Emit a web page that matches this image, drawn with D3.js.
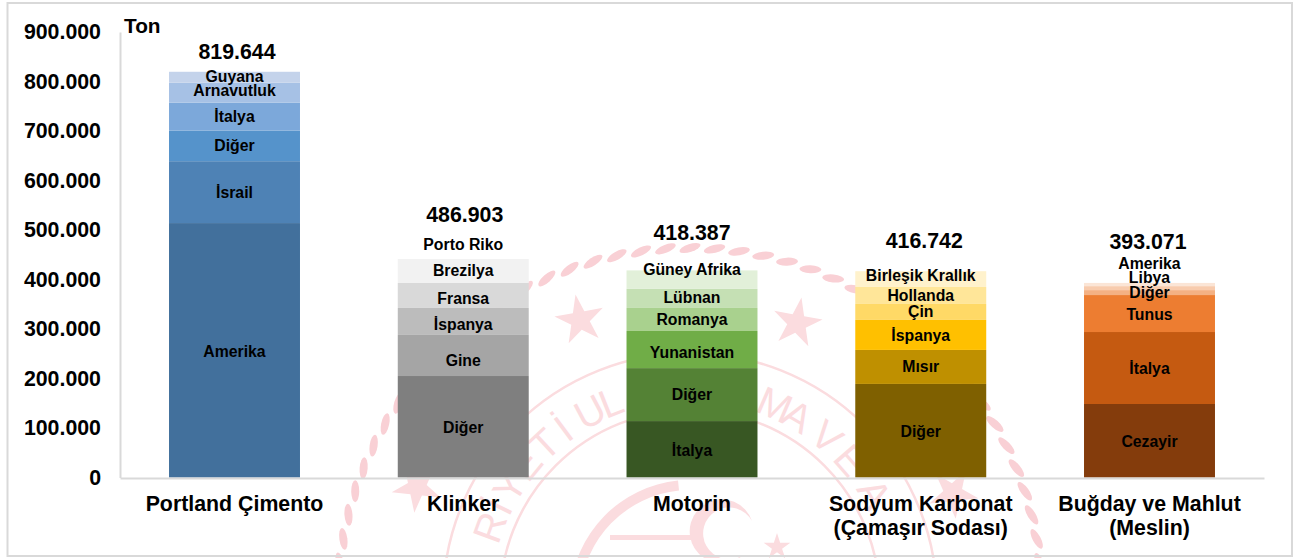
<!DOCTYPE html>
<html>
<head>
<meta charset="utf-8">
<script src="https://cdn.jsdelivr.net/npm/d3@7"></script>
<style>
  html, body { margin: 0; padding: 0; background: #fff; }
  svg { display: block; }
  text { font-family: "Liberation Sans", Arial, sans-serif; font-weight: bold; fill: #000; }
  .seal text { font-weight: normal; fill: #fbdcdf; }
</style>
</head>
<body>
<div id="chart"></div>
<script>
////////////////////////////////////////////////////////////////////////
// Data. Segments go from the bottom of the bar up.

let categories = ["Portland Çimento", "Klinker", "Motorin", "Sodyum Karbonat|(Çamaşır Sodası)", "Buğday ve Mahlut|(Meslin)"];
let totals = [819644, 486903, 418387, 416742, 393071];
let yTicks = [0, 100000, 200000, 300000, 400000, 500000, 600000, 700000, 800000, 900000];

let portlandNames = ["Amerika", "İsrail", "Diğer", "İtalya", "Arnavutluk", "Guyana"];
let portlandValues = [514000, 125000, 62000, 56500, 40000, 22144];
let klinkerNames = ["Diğer", "Gine", "İspanya", "Fransa", "Brezilya", "Porto Riko"];
let klinkerValues = [205000, 83000, 54500, 50500, 48500, 45403];
let motorinNames = ["İtalya", "Diğer", "Yunanistan", "Romanya", "Lübnan", "Güney Afrika"];
let motorinValues = [114000, 107000, 75000, 46500, 38500, 37387];
let sodyumNames = ["Diğer", "Mısır", "İspanya", "Çin", "Hollanda", "Birleşik Krallık"];
let sodyumValues = [189000, 68700, 60600, 32300, 34300, 31842];
let bugdayNames = ["Cezayir", "İtalya", "Tunus", "Diğer", "Libya", "Amerika"];
let bugdayValues = [148500, 145400, 74700, 10000, 8000, 6471];

let allNames = [portlandNames, klinkerNames, motorinNames, sodyumNames, bugdayNames];
let allValues = [portlandValues, klinkerValues, motorinValues, sodyumValues, bugdayValues];

let palettes = [
  ["#42709c", "#4e82b5", "#5593cb", "#7ca8da", "#a6c1e5", "#c4d3eb"],
  ["#7f7f7f", "#a5a5a5", "#bcbcbc", "#d9d9d9", "#f2f2f2", "#ffffff"],
  ["#385723", "#548235", "#70ad47", "#a9d18e", "#c5e0b4", "#e2f0d9"],
  ["#7f6000", "#bf9000", "#ffc000", "#ffd966", "#ffe699", "#fff2cc"],
  ["#843c0c", "#c55a11", "#ed7d31", "#f4b183", "#f8cbad", "#fbe5d6"]
];

// the labels were moved by hand in the original, so they need nudging too
let labelNudge = [
  [1.5, 0, 0, 0, -2, -1],
  [1, 5, 3, 3, 0, -3.5],
  [1, 0, 3, 0, -1, -10],
  [1, 0, 1, 0, 0, -3.5],
  [1, 0, 0.5, 0, -11, -21]
];
let totalLift = [13, 14.5, 30, 23, 34];
let totalShift = [2.5, 1.5, 0, 3.5, -1.5];

// letters of the seal that can be seen, with their angle on the ring
let sealLetters = "RİYETİULAŞTIRMAVEA".split("");
let sealAngles = [-70, -64, -58, -50.5, -43, -36.5, -28, -21.8, -14, -6, 1, 6, 12, 23.5, 30.3, 40, 48.9, 60];

////////////////////////////////////////////////////////////////////////
// Setup

let width = 1295;
let height = 558;
let axisColor = "#d9d9d9";
let ropeColor = "#f9d0d5";
let markColor = "#fbdcdf";

let svg = d3.select("#chart").append("svg")
  .attr("width", width).attr("height", height);

let xScale = d3.scaleBand().domain(d3.range(categories.length)).range([120, 1264]).paddingInner(0.4275).paddingOuter(0.2143);
let yScale = d3.scaleLinear().domain([0, 900000]).range([477.5, 32]);

let dotted = d3.formatLocale({ decimal: ",", thousands: ".", grouping: [3], currency: ["", ""] }).format(",");

////////////////////////////////////////////////////////////////////////
// Faint seal behind the chart

function drawSeal() {
  let cx = 690, cy = 600;
  let seal = svg.append("g").attr("class", "seal");

  // rope, only the part above the bottom of the frame
  seal.append("g").selectAll("ellipse")
    .data(d3.range(-84, 85, 4))
    .enter().append("ellipse")
    .attr("rx", 11).attr("ry", 4)
    .attr("fill", ropeColor)
    .attr("transform", function(a) { return "translate(" + cx + "," + cy + ") rotate(" + a + ") translate(0,-352) rotate(-18)"; });

  [247, 190].forEach(function(r) {
    seal.append("circle").attr("cx", cx).attr("cy", cy).attr("r", r)
      .attr("fill", "none").attr("stroke", markColor).attr("stroke-width", 2.5);
  });

  seal.append("g").selectAll("text")
    .data(sealLetters)
    .enter().append("text")
    .attr("text-anchor", "middle")
    .attr("font-size", 40)
    .attr("transform", function(d, i) { return "translate(" + cx + "," + cy + ") rotate(" + sealAngles[i] + ") translate(0,-199)"; })
    .text(function(d) { return d; });

  // stars on the ring
  let star = d3.symbol().type(d3.symbolStar).size(750);
  let smallStar = d3.symbol().type(d3.symbolStar).size(220);
  [[580, 320, -10], [797, 323, 10], [417, 487, -30], [953, 493, 30]].forEach(function(s) {
    seal.append("path").attr("d", star())
      .attr("fill", markColor)
      .attr("transform", "translate(" + s[0] + "," + s[1] + ") rotate(" + s[2] + ")");
  });
  seal.append("path").attr("d", smallStar()).attr("fill", markColor)
    .attr("transform", "translate(777,547)");

  // middle of the emblem
  seal.append("path")
    .attr("d", d3.arc().innerRadius(110).outerRadius(120).startAngle(-1.5).endAngle(-0.1)())
    .attr("transform", "translate(" + cx + "," + cy + ")")
    .attr("fill", markColor);
  seal.append("rect").attr("x", 610).attr("y", 535).attr("width", 92).attr("height", 5).attr("fill", markColor);
  seal.append("path")
    .attr("d", "M752,521 A32,32 0 1,0 742,556 A26,26 0 1,1 752,521 Z")
    .attr("fill", markColor);
}
drawSeal();

////////////////////////////////////////////////////////////////////////
// Frame

svg.append("rect")
  .attr("x", 7.5).attr("y", 3).attr("width", 1284.5).attr("height", 553)
  .attr("fill", "none").attr("stroke", axisColor).attr("stroke-width", 2);

////////////////////////////////////////////////////////////////////////
// Stacked bars

let rows = categories.map(function(c, i) { return allValues[i]; });
let stack = d3.stack().keys(d3.range(6)).value(function(row, k) { return row[k]; });
let series = stack(rows);

series.forEach(function(layer, k) {
  svg.append("g").selectAll("rect")
    .data(layer)
    .enter().append("rect")
    .attr("x", function(d, i) { return xScale(i); })
    .attr("y", function(d) { return yScale(d[1]); })
    .attr("width", xScale.bandwidth())
    .attr("height", function(d) { return yScale(d[0]) - yScale(d[1]); })
    .attr("fill", function(d, i) { return palettes[i][k]; });
});

////////////////////////////////////////////////////////////////////////
// Axes

let yAxis = d3.axisLeft(yScale).tickValues(yTicks).tickFormat(dotted).tickSize(0).tickPadding(19);
let yG = svg.append("g").attr("transform", "translate(120,0)").call(yAxis);
yG.select(".domain").attr("stroke", axisColor).attr("stroke-width", 2);
yG.selectAll("text").attr("font-size", 21.33).attr("font-family", null);

let xAxis = d3.axisBottom(xScale).tickSize(0).tickFormat("");
let xG = svg.append("g").attr("transform", "translate(0,478)").call(xAxis);
xG.select(".domain").attr("stroke", axisColor).attr("stroke-width", 2);

// category names, one or two lines
categories.forEach(function(c, i) {
  let t = svg.append("text")
    .attr("text-anchor", "middle")
    .attr("font-size", 21.33);
  c.split("|").forEach(function(line, n) {
    t.append("tspan")
      .attr("x", xScale(i) + xScale.bandwidth() / 2)
      .attr("y", 510.5 + n * 24.5)
      .text(line);
  });
});

// segment names
series.forEach(function(layer, k) {
  svg.append("g").selectAll("text")
    .data(layer)
    .enter().append("text")
    .attr("x", function(d, i) { return xScale(i) + xScale.bandwidth() / 2; })
    .attr("y", function(d, i) { return yScale((d[0] + d[1]) / 2) + labelNudge[i][k]; })
    .attr("dy", "0.35em")
    .attr("text-anchor", "middle")
    .attr("font-size", 15.8)
    .text(function(d, i) { return allNames[i][k]; });
});

// totals over the bars
svg.append("g").selectAll("text")
  .data(totals)
  .enter().append("text")
  .attr("x", function(d, i) { return xScale(i) + xScale.bandwidth() / 2 + totalShift[i]; })
  .attr("y", function(d, i) { return yScale(d) - totalLift[i]; })
  .attr("text-anchor", "middle")
  .attr("font-size", 21.33)
  .text(function(d) { return dotted(d); });

svg.append("text")
  .attr("x", 124).attr("y", 33)
  .attr("font-size", 20.8)
  .text("Ton");
</script>
</body>
</html>
